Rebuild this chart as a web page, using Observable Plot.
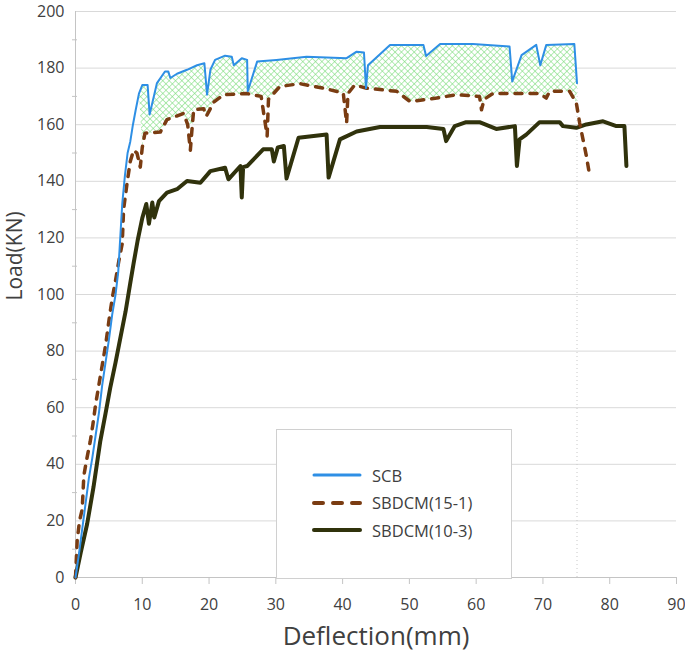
<!DOCTYPE html>
<html><head><meta charset="utf-8">
<script src="https://cdn.jsdelivr.net/npm/d3@7"></script>
<script src="https://cdn.jsdelivr.net/npm/@observablehq/plot@0.6"></script>
<style>
body{margin:0;background:#fff}
#wrap{position:relative;width:685px;height:652px;font-family:"Open Sans",sans-serif}
#legend{position:absolute;left:276px;top:429px;width:236px;height:150px;border:1px solid #d0d0d0;background:#fff;box-sizing:border-box}
.row{position:absolute;left:35px;height:20px;display:flex;align-items:center;font-size:16.5px;color:#404040}
.row svg{margin-right:10px}
</style></head>
<body><div id="wrap"></div>
<script>
// ---- data (deflection mm, load kN) ----
const seriesNames = ["SCB", "SBDCM(15-1)", "SBDCM(10-3)"];
const xTicks = [0,10,20,30,40,50,60,70,80,90];
const yTicks = [0,20,40,60,80,100,120,140,160,180,200];
const yMinor = [10,30,50,70,90,110,130,150,170,190];

const scb = [[0,0],[0.5,8],[1,17],[1.5,26],[2,35],[2.5,42],[3,50],[3.5,58],[4,68],[4.5,76],[5,84],[5.5,93],[6,100],[6.4,108],[6.7,120],[7,132],[7.4,142],[7.8,150],[8.2,154],[8.6,160],[9,165],[9.5,171],[10,174],[10.8,174],[11.1,163.6],[12.2,174.7],[13.4,178.8],[13.9,178.8],[14.2,176.5],[15.2,178],[16.7,179.4],[18.2,181],[19.3,181.7],[19.7,170.6],[20.2,179.4],[20.9,182.9],[22.4,184.4],[23.4,184],[23.7,181],[24.9,183.5],[25.7,182.9],[25.8,171.8],[27.2,182.3],[30.1,182.9],[34.6,184],[40.6,183.5],[42.1,185.8],[43.2,185.5],[43.5,172.9],[43.8,181],[47.1,188.2],[52.1,188.2],[52.5,184.3],[54.6,188.5],[59.5,188.5],[65,187.6],[65.4,175.3],[66.8,184.6],[69,188.2],[69.6,181],[70.5,188.2],[74.7,188.5],[75.1,174.7]];

const sbdcm15 = [[0,0],[0.25,13],[0.6,20],[1,24],[1.25,36],[1.7,42],[2.2,48],[2.6,54],[3,61],[3.5,68],[4,75],[4.5,82],[5.2,94],[5.6,100],[6,105],[6.5,112],[7,118],[7.2,130],[7.7,139],[8.2,147],[8.7,151],[9.2,150],[9.7,145],[10,152],[10.4,157],[12.7,157.4],[13.7,161.8],[16.2,164],[16.8,160],[17.2,151],[17.5,160],[17.7,165.3],[19.2,165.6],[19.6,163],[20.7,168],[22.2,170.6],[25.7,171],[27.8,170],[28.7,156],[28.9,169],[30.6,173.5],[33.6,174.5],[37.1,172.9],[40.1,171.2],[40.6,160.6],[40.8,171],[41.8,174],[43.6,172.9],[48.1,171.8],[50.1,168.2],[54.1,169.4],[57,170.6],[60.5,170],[60.8,165.3],[61.2,169],[62.5,171],[69.5,171],[70.5,169.4],[71,171.8],[74,171.8],[75,167.7],[75.5,160.6],[76.5,149],[77,142]];

const sbdcm10 = [[0,0],[0.8,9],[1.75,19],[2.7,32],[3.7,48],[4.5,58],[5.2,67],[6,76],[6.5,82],[7.5,94],[8.2,104],[8.7,111],[9.3,119],[10,127],[10.6,132],[11,125],[11.5,132.5],[11.8,127.2],[12.5,133],[13.7,136],[15.2,137.2],[16.7,140.1],[18.7,139.5],[20.2,143.6],[22.4,144.8],[22.9,140.7],[24.7,145.4],[24.9,134.3],[25.1,145],[25.7,145.4],[28.1,151.3],[29.4,151.3],[29.7,147],[30.3,152],[31.2,152.5],[31.6,141],[33.4,155.4],[37.6,156.5],[37.9,141.3],[39.6,154.8],[42.1,157.6],[45.6,159.2],[52.6,159.2],[55.1,158.5],[55.5,154.2],[56.8,159.5],[58.5,160.9],[60.5,160.9],[63,158.5],[65.8,159.5],[66.1,145.4],[66.5,154.8],[67.5,156.5],[69.5,160.9],[72.5,160.9],[73,159.5],[75,158.9],[76.5,160.1],[79,161.2],[81,159.5],[82.2,159.5],[82.5,145.4]];

const colors = ["#2e8fe5", "#7a3c12", "#30320c"];

// hatched band between SCB and SBDCM(15-1)
const bandTop = scb.filter(d => d[0] >= 9.5);
const bandBot = sbdcm15.filter((d, i, a) => {
  if (d[0] < 9.7 || d[0] > 75) return false;
  const p = a[i-1], n = a[i+1];
  return !(p && n && d[1] < Math.min(p[1], n[1]) - 4);
});
const band = bandTop.concat(bandBot.slice().reverse());
const lastScb = scb[scb.length - 1];

const X = d => d[0], Y = d => d[1];

const chart = Plot.plot({
  width: 685, height: 652,
  marginLeft: 75, marginRight: 9, marginTop: 11, marginBottom: 75,
  x: {domain: [0, 90]},
  y: {domain: [0, 200]},
  style: {fontFamily: "'Open Sans', sans-serif", fontSize: "16px", color: "#404040", background: "#fff"},
  marks: [
    Plot.gridY(yTicks.slice(1), {stroke: "#d9d9d9", strokeOpacity: 1}),
    Plot.ruleX([0], {stroke: "#c4c4c4"}),
    Plot.ruleY([0], {stroke: "#c4c4c4"}),
    Plot.axisY(yMinor, {tickSize: 5, dx: 2, tickFormat: () => "", stroke: "#c4c4c4"}),
    Plot.axisY(yTicks, {tickSize: 0, tickPadding: 11, fontSize: 16, label: null}),
    Plot.axisX(xTicks, {tickSize: 7, tickPadding: 14, fontSize: 16, stroke: "#c4c4c4", label: null}),
    Plot.text(["Deflection(mm)"], {frameAnchor: "bottom", dy: 59, fontSize: 26, lineAnchor: "middle"}),
    Plot.text(["Load(KN)"], {frameAnchor: "left", dx: -60, dy: 6, rotate: -90, fontSize: 21, lineAnchor: "middle"}),
    Plot.ruleX([lastScb], {x: X, y1: 0, y2: Y, stroke: "#c8c8c8", strokeDasharray: "1,3"}),
    Plot.line(band, {x: X, y: Y, fill: "url(#hatch)", stroke: "none"}),
    Plot.line(sbdcm10, {x: X, y: Y, stroke: colors[2], strokeWidth: 4, strokeLinejoin: "round"}),
    Plot.line(sbdcm15, {x: X, y: Y, stroke: colors[1], strokeWidth: 3.5, strokeDasharray: "7,8", strokeLinecap: "round", strokeLinejoin: "round"}),
    Plot.line(scb, {x: X, y: Y, stroke: colors[0], strokeWidth: 2, strokeLinejoin: "round"})
  ]
});

// pattern definition
const ns = "http://www.w3.org/2000/svg";
const defs = document.createElementNS(ns, "defs");
defs.innerHTML = '<pattern id="hatch" patternUnits="userSpaceOnUse" width="4.5" height="4.5" patternTransform="rotate(45)"><rect width="4.5" height="4.5" fill="#fff"/><line x1="0" y1="0" x2="4.5" y2="0" stroke="#79dc79" stroke-width="1.1"/><line x1="0" y1="0" x2="0" y2="4.5" stroke="#79dc79" stroke-width="1.1"/></pattern>';
chart.insertBefore(defs, chart.firstChild);

const wrap = document.getElementById("wrap");
wrap.appendChild(chart);

// legend
const legend = document.createElement("div");
legend.id = "legend";
const dashes = [null, "9,10", null];
const widths = [3, 4, 4];
seriesNames.forEach((name, i) => {
  const row = document.createElement("div");
  row.className = "row";
  row.style.top = (35 + i * 27.5) + "px";
  row.innerHTML = `<svg width="50" height="10"><line x1="2" y1="5" x2="48" y2="5" stroke="${colors[i]}" stroke-width="${widths[i]}" stroke-linecap="round" ${dashes[i] ? `stroke-dasharray="${dashes[i]}"` : ""}/></svg><span>${name}</span>`;
  legend.appendChild(row);
});
wrap.appendChild(legend);
</script></body></html>
